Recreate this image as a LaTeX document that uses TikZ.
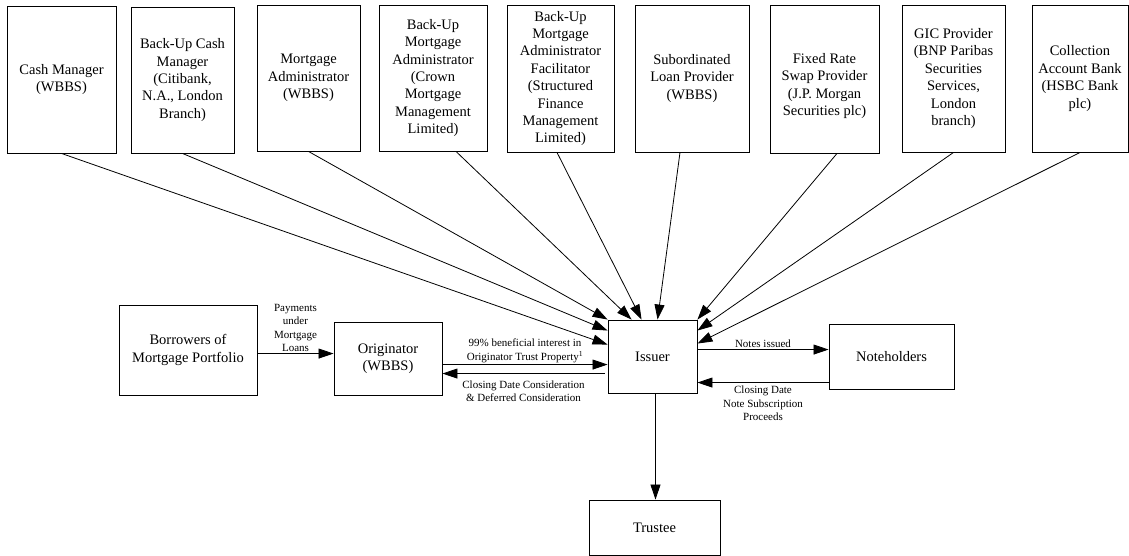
\documentclass[tikz,border=0pt]{standalone}
\usepackage{fontspec}
\setmainfont{Liberation Serif}
\usetikzlibrary{arrows.meta,calc}
\begin{document}
\begin{tikzpicture}[x=1pt,y=-1pt,
  box/.style={draw=black, line width=0.9pt, align=center, inner sep=1pt, font=\fontsize{14.5}{17.4}\selectfont},
  boxtext/.style={align=center, inner sep=0pt, font=\fontsize{14.5}{17.4}\selectfont},
  conn/.style={line width=0.8pt, -{Triangle[length=15pt,width=10pt]}},
  lbl/.style={font=\fontsize{11}{13.5}\selectfont, align=center, inner sep=1.5pt}]
\useasboundingbox (0,0) rectangle (1129,556);
% top row
\node[box, minimum width=109pt, minimum height=147pt] (cash) at (61.5,79.5) {Cash Manager\\(WBBS)};
\node[box, minimum width=103pt, minimum height=146pt] (bucash) at (182.5,80) {Back-Up Cash\\Manager\\(Citibank,\\N.A., London\\Branch)};
\node[box, minimum width=103pt, minimum height=146pt] (madmin) at (308.5,78) {Mortgage\\Administrator\\(WBBS)};
\node[box, minimum width=108pt, minimum height=146pt] (buma) at (433,78) {Back-Up\\Mortgage\\Administrator\\(Crown\\Mortgage\\Management\\Limited)};
\node[box, minimum width=107pt, minimum height=147pt] (bumaf) at (560.5,78.5) {Back-Up\\Mortgage\\Administrator\\Facilitator\\(Structured\\Finance\\Management\\Limited)};
\node[box, minimum width=114pt, minimum height=147pt] (sub) at (692,78.5) {Subordinated\\Loan Provider\\(WBBS)};
\node[box, minimum width=109pt, minimum height=148pt] (swap) at (824.5,79) {};
\node[boxtext] (swaptext) at (824.5,86) {Fixed Rate\\Swap Provider\\(J.P. Morgan\\Securities plc)};
\node[box, minimum width=103pt, minimum height=147pt] (gic) at (953.5,78.5) {GIC Provider\\(BNP Paribas\\Securities\\Services,\\London\\branch)};
\node[box, minimum width=96pt, minimum height=147pt] (coll) at (1080,78.5) {Collection\\Account Bank\\(HSBC Bank\\plc)};
% middle row
\node[box, minimum width=138pt, minimum height=90pt] (borr) at (188,350) {Borrowers of\\Mortgage Portfolio};
\node[box, minimum width=108pt, minimum height=73pt] (orig) at (388,358.5) {Originator\\(WBBS)};
\node[box, minimum width=89pt, minimum height=73pt] (issuer) at (652.5,356.5) {Issuer};
\node[box, minimum width=125pt, minimum height=65pt] (noteh) at (891.5,356.5) {Noteholders};
\node[box, minimum width=131pt, minimum height=55pt] (trustee) at (654.5,527.5) {Trustee};
% connectors from top row
\draw[conn] (cash.south) -- ($(issuer.north west)+(0,25)$);
\draw[conn] (bucash.south) -- ($(issuer.north west)+(0,11)$);
\draw[conn] (madmin.south) -- (issuer.north west);
\draw[conn] ($(buma.south)+(23,0)$) -- ($(issuer.north west)+(24,0)$);
\draw[conn] ($(bumaf.south)+(-3.5,0)$) -- ($(issuer.north west)+(34,0)$);
\draw[conn] ($(sub.south)+(-12,0)$) -- ($(issuer.north west)+(50,0)$);
\draw[conn] ($(swap.south)+(12.5,0)$) -- (issuer.north east);
\draw[conn] (gic.south) -- ($(issuer.north east)+(0,11)$);
\draw[conn] (coll.south) -- ($(issuer.north east)+(0,24)$);
% horizontal flows
\coordinate (p1) at ($(borr.north east)+(0,49)$);
\draw[conn] (p1) -- node[lbl, above] (paylbl) {Payments\\under\\Mortgage\\Loans} (p1 -| orig.west);
\coordinate (o1) at ($(orig.north east)+(0,43)$);
\draw[conn] (o1) -- node[lbl, above] (benlbl) {99\% beneficial interest in\\Originator Trust Property\textsuperscript{1}} (o1 -| issuer.west);
\coordinate (o2) at ($(issuer.north west)+(-3,54)$);
\draw[conn] (o2) -- node[lbl, below=5pt] (conslbl) {Closing Date Consideration\\\& Deferred Consideration} (o2 -| orig.east);
\coordinate (n1) at ($(issuer.north east)+(0,30)$);
\draw[conn] (n1) -- node[lbl, above] (notelbl) {Notes issued} (n1 -| noteh.west);
\coordinate (n2) at ($(noteh.north west)+(0,59)$);
\draw[conn] (n2) -- node[lbl, below=1.5pt] (proclbl) {Closing Date\\Note Subscription\\Proceeds} (n2 -| issuer.east);
\coordinate (t1) at ($(issuer.south)+(3,0)$);
\draw[conn] (t1) -- (t1 |- trustee.north);
\end{tikzpicture}
\end{document}
